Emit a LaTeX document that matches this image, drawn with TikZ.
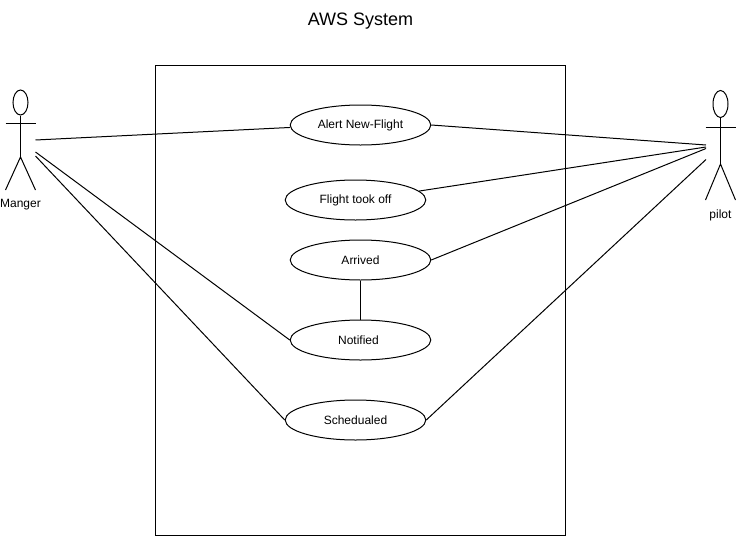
\documentclass[tikz,border=0pt]{standalone}
\usepackage{fontspec}
\setmainfont{Liberation Sans}
\usetikzlibrary{shapes.geometric}
\tikzset{
  usecase/.style={draw,ellipse,minimum width=105.4pt,minimum height=30pt,inner sep=0pt,line width=0.75pt},
  caselabel/.style={font=\fontsize{9}{11}\selectfont,inner sep=0pt},
  link/.style={line width=0.75pt},
  actorlabel/.style={font=\fontsize{9}{11}\selectfont,inner sep=0pt},
  head/.style={draw,ellipse,minimum width=11.25pt,inner sep=0pt,line width=0.75pt},
}
\begin{document}
\begin{tikzpicture}[x=0.75pt,y=-0.75pt]
\useasboundingbox (0,0) rectangle (736,536);
\fill[white] (0,0) rectangle (736,536);
\node[font=\fontsize{13.5}{15}\selectfont,inner sep=0pt] (title) at (360.5,21.5) {AWS System};
\draw[link] (155.5,65.5) rectangle (565.5,535.5);
\node[usecase,label={[caselabel]center:Alert New-Flight}] (alert) at (360.5,125) {};
\node[usecase,label={[caselabel]center:Flight took off}] (took) at (355.5,200) {};
\node[usecase,label={[caselabel]center:Arrived}] (arr) at (360.5,260) {};
\node[usecase,label={[caselabel]center:\hspace*{-3pt}Notified}] (noti) at (360.5,340) {};
\node[usecase,label={[caselabel]center:Schedualed}] (sched) at (355.5,420) {};
% Manger
\node[head,minimum height=18.75pt] (mh) at (20.5,102.5) {};
\coordinate (mhip) at (20.5,157);
\coordinate (ma) at (35.5,140);
\coordinate (mb) at (35.5,152);
\coordinate (mc) at (35.5,156);
\draw[link] (mh.south) -- (mhip);
\draw[link] (5.5,123.5) -- (35.5,123.5);
\draw[link] (5.5,190) -- (mhip) -- (35.5,190);
\node[actorlabel] (ml) at (20.5,205) {Manger};
% pilot
\node[head,minimum height=20.25pt] (ph) at (720.5,104) {};
\coordinate (phip) at (720.5,164);
\coordinate (pa) at (706,145);
\coordinate (pc) at (706,147);
\coordinate (pd) at (706,148.5);
\coordinate (pb) at (706,159.5);
\draw[link] (ph.south) -- (phip);
\draw[link] (705.5,127) -- (735.5,127);
\draw[link] (705.5,200) -- (phip) -- (735.5,200);
\node[actorlabel] (pl) at (720.5,215) {pilot};
% connectors
\draw[link] (ma) -- (alert.182.5);
\draw[link] (mb) -- (noti.west);
\draw[link] (mc) -- (sched.west);
\draw[link] (alert.east) -- (pa);
\draw[link] (took.8.5) -- (pc);
\draw[link] (arr.east) -- (pd);
\draw[link] (sched.east) -- (pb);
\draw[link] (arr.south) -- (noti.north);
\end{tikzpicture}
\end{document}
